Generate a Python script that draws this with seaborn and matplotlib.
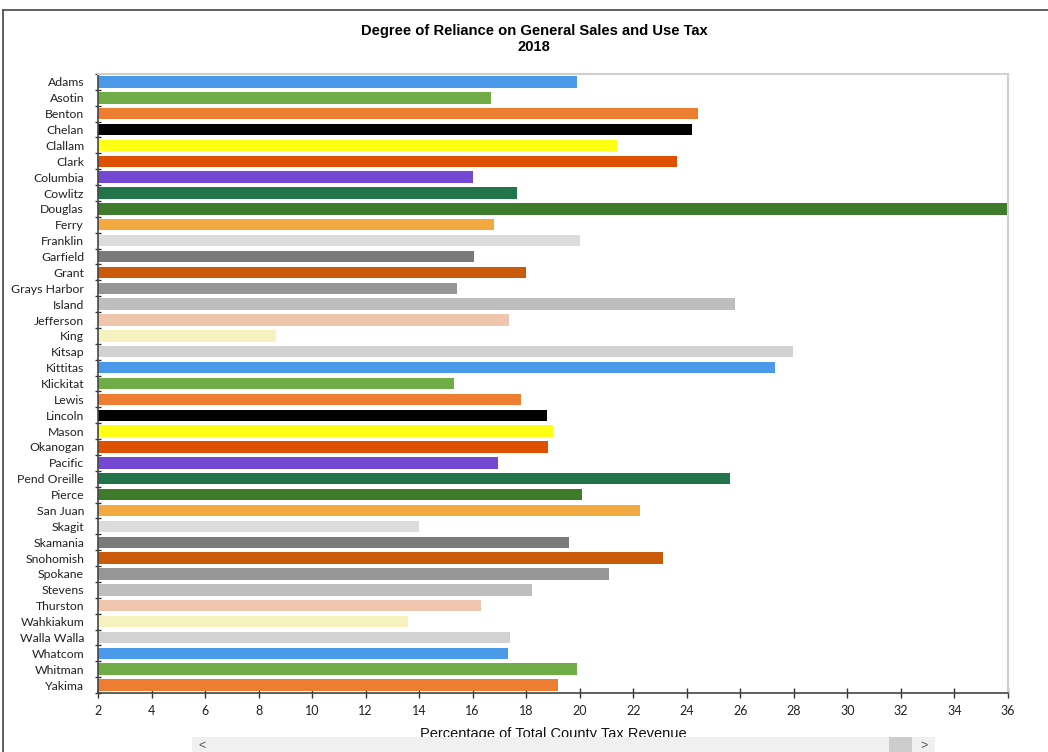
import matplotlib
matplotlib.use("Agg")
import matplotlib.pyplot as plt
import seaborn as sns
import pandas as pd
from matplotlib.patches import Rectangle
from matplotlib.lines import Line2D
from matplotlib.ticker import FixedLocator

counties = ["Adams", "Asotin", "Benton", "Chelan", "Clallam", "Clark", "Columbia",
            "Cowlitz", "Douglas", "Ferry", "Franklin", "Garfield", "Grant",
            "Grays Harbor", "Island", "Jefferson", "King", "Kitsap", "Kittitas",
            "Klickitat", "Lewis", "Lincoln", "Mason", "Okanogan", "Pacific",
            "Pend Oreille", "Pierce", "San Juan", "Skagit", "Skamania", "Snohomish",
            "Spokane", "Stevens", "Thurston", "Wahkiakum", "Walla Walla", "Whatcom",
            "Whitman", "Yakima"]
values = [19.9, 16.7, 24.4, 24.2, 21.4, 23.65, 16.0,
          17.66, 40.0, 16.8, 20.0, 16.06, 18.0,
          15.4, 25.8, 17.35, 8.65, 27.95, 27.3,
          15.3, 17.8, 18.76, 19.0, 18.8, 16.94,
          25.6, 20.1, 22.25, 14.0, 19.6, 23.1,
          21.1, 18.2, 16.3, 13.6, 17.4, 17.3,
          19.9, 19.2]
palette18 = ["#4A9AE9", "#70AD47", "#ED7D31", "#000000", "#FFFF14", "#DE5100",
             "#7548D4", "#22744A", "#3E7B2A", "#F2A93F", "#DCDCDC", "#7A7A7A",
             "#C95B0B", "#969696", "#BEBEBE", "#EFC5AE", "#F5F2BF", "#D2D2D2"]
x_ticks = list(range(2, 37, 2))
title = "Degree of Reliance on General Sales and Use Tax\n2018"
xlabel = "Percentage of Total County Tax Revenue"

colors = [palette18[i % len(palette18)] for i in range(len(counties))]
df = pd.DataFrame({"county": counties, "value": values})

sns.set_theme(style="white")
plt.rcParams["font.family"] = ["Liberation Sans", "DejaVu Sans"]

fig = plt.figure(figsize=(10.48, 7.52), dpi=100)
ax = fig.add_axes([98/1048, 1-693/752, 910/1048, (693-74)/752])

sns.barplot(data=df, x="value", y="county", hue="county", palette=colors,
            legend=False, orient="h", width=0.72, ax=ax, saturation=1,
            edgecolor="none", linewidth=0)

ax.set_xlim(2, 36)
ax.set_ylim(len(counties) - 0.5, -0.5)
ax.set_xticks(x_ticks)
ax.set_xticklabels([str(t) for t in x_ticks], fontsize=9, color="#222222",
                   family=["Lato", "DejaVu Sans"])
ax.set_yticks(range(len(counties)))
ax.set_yticklabels(counties, fontsize=8.8, color="#222222", family=["Lato", "DejaVu Sans"])
ax.yaxis.set_minor_locator(FixedLocator([i - 0.5 for i in range(len(counties) + 1)]))
ax.tick_params(axis="y", which="major", length=0, pad=10)
ax.tick_params(axis="y", which="minor", length=5, width=1, direction="inout", color="#333333", left=True)
ax.tick_params(axis="x", which="major", length=7, width=1, direction="inout", color="#333333", bottom=True, pad=5)
ax.set_ylabel("")
ax.set_xlabel(xlabel, fontsize=10.5, color="#111111", labelpad=7)

for s in ["top", "right"]:
    ax.spines[s].set_color("#D0D0D0")
    ax.spines[s].set_linewidth(1.5)
for s in ["left", "bottom"]:
    ax.spines[s].set_color("#444444")
    ax.spines[s].set_linewidth(1.2)
    ax.spines[s].set_visible(True)
ax.grid(False)

fig.text(534/1048, 1-39/752, title, ha="center", va="center", fontsize=10.6,
         fontweight="bold", linespacing=1.15, color="#000000")

# outer frame lines
fig.add_artist(Line2D([3/1048, 3/1048], [0, 1-9.5/752], transform=fig.transFigure,
                      color="#444444", lw=1.2))
fig.add_artist(Line2D([3/1048, 1], [1-9.5/752, 1-9.5/752], transform=fig.transFigure,
                      color="#444444", lw=1.2))

# scrollbar strip
fig.patches.append(Rectangle((192/1048, 0), (935-192)/1048, 15/752, transform=fig.transFigure,
                             facecolor="#F0F0F0", edgecolor="none", zorder=5))
fig.patches.append(Rectangle((889/1048, 0), (912-889)/1048, 15/752, transform=fig.transFigure,
                             facecolor="#CDCDCD", edgecolor="none", zorder=6))
fig.text(202/1048, 6/752, "<", ha="center", va="center", fontsize=9, color="#555555", zorder=7)
fig.text(924/1048, 6/752, ">", ha="center", va="center", fontsize=9, color="#555555", zorder=7)

fig.savefig("out.png", dpi=100)
